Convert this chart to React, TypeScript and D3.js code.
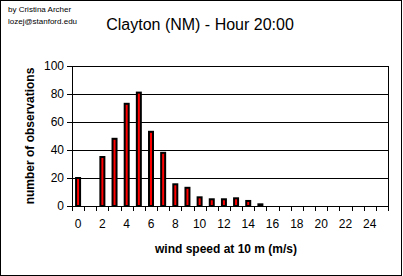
import { useEffect, useRef } from "react";
import { axisBottom, axisLeft, scaleBand, scaleLinear, select, range } from "d3";

const speeds = range(0, 26).map(String);
const counts = [20, 0, 35, 48, 73, 81, 53, 38, 15.5, 13, 6.2, 4.8, 4.8, 5.5, 3.6, 1.2, 0, 0, 0, 0, 0, 0, 0, 0, 0, 0];
const yTicks = [0, 20, 40, 60, 80, 100];
const titleText = "Clayton (NM) - Hour 20:00";
const authorLines = ["by Cristina Archer", "lozej@stanford.edu"];

const W = 403;
const H = 276;
const margin = { top: 66, right: 15, bottom: 70, left: 72 };
const innerW = 388 - margin.left;
const innerH = 206 - margin.top;
const font = "'Liberation Sans', Arial, sans-serif";

export default function App() {
  const xRef = useRef<SVGGElement>(null);
  const yRef = useRef<SVGGElement>(null);

  const x = scaleBand<string>().domain(speeds).range([0, innerW]).padding(0);
  const y = scaleLinear().domain([0, 100]).range([innerH, 0]);
  const barW = 4;

  useEffect(() => {
    if (xRef.current) {
      const g = select(xRef.current);
      g.call(axisBottom(x).tickSize(0).tickFormat((d) => (Number(d) % 2 === 0 ? d : "")));
      g.select(".domain").remove();
      g.selectAll("text")
        .attr("dy", 0)
        .attr("y", 22)
        .style("font-family", font)
        .style("font-size", "12px")
        .attr("fill", "#000");
    }
    if (yRef.current) {
      const g = select(yRef.current);
      g.call(axisLeft(y).tickValues(yTicks).tickSize(5).tickPadding(3));
      g.select(".domain").remove();
      g.selectAll("line").attr("stroke", "#000");
      g.selectAll("text")
        .style("font-family", font)
        .style("font-size", "12px")
        .attr("fill", "#000");
    }
  }, []);

  return (
    <svg
      width={W}
      height={H}
      style={{ position: "absolute", left: 0, top: 0, background: "#fff" }}
    >
      <rect x={0.5} y={0.5} width={W - 2} height={H - 1} fill="#fff" stroke="#000" />
      {authorLines.map((t, i) => (
        <text key={t} x={8} y={12 + i * 12} fontFamily={font} fontSize={8} fill="#000">
          {t}
        </text>
      ))}
      <text x={200} y={30} textAnchor="middle" fontFamily={font} fontSize={16} fill="#000">
        {titleText}
      </text>
      <text
        transform={`translate(34, ${margin.top + innerH / 2}) rotate(-90)`}
        textAnchor="middle"
        fontFamily={font}
        fontSize={12}
        fontWeight="bold"
        fill="#000"
      >
        number of observations
      </text>
      <text
        x={margin.left + innerW / 2 - 4}
        y={253}
        textAnchor="middle"
        fontFamily={font}
        fontSize={12}
        fontWeight="bold"
        fill="#000"
      >
        wind speed at 10 m (m/s)
      </text>
      <g transform={`translate(${margin.left}, ${margin.top})`}>
        {yTicks.slice(1).map((t) => (
          <line key={t} x1={0} x2={innerW} y1={Math.round(y(t)) + 0.5} y2={Math.round(y(t)) + 0.5} stroke="#000" />
        ))}
        <line x1={innerW + 0.5} x2={innerW + 0.5} y1={0} y2={innerH} stroke="#000" />
        {counts.map((v, i) =>
          v > 0 ? (
            <rect
              key={i}
              x={(x(speeds[i]) as number) + x.bandwidth() / 2 - barW / 2}
              y={y(v)}
              width={barW}
              height={Math.max(innerH - y(v), 0.5)}
              fill="#ff0000"
              stroke="#000"
              strokeWidth={2}
            />
          ) : null
        )}
        <line x1={0.5} x2={0.5} y1={0} y2={innerH} stroke="#000" />
        <line x1={0} x2={innerW} y1={innerH + 0.5} y2={innerH + 0.5} stroke="#000" />
        {speeds.map((s) => (
          <line
            key={s}
            x1={Math.round(x(s) as number) + 0.5}
            x2={Math.round(x(s) as number) + 0.5}
            y1={innerH}
            y2={innerH + 5}
            stroke="#000"
          />
        ))}
        <line x1={innerW + 0.5} x2={innerW + 0.5} y1={innerH} y2={innerH + 5} stroke="#000" />
        <g ref={yRef} />
        <g ref={xRef} transform={`translate(0, ${innerH})`} />
      </g>
    </svg>
  );
}
